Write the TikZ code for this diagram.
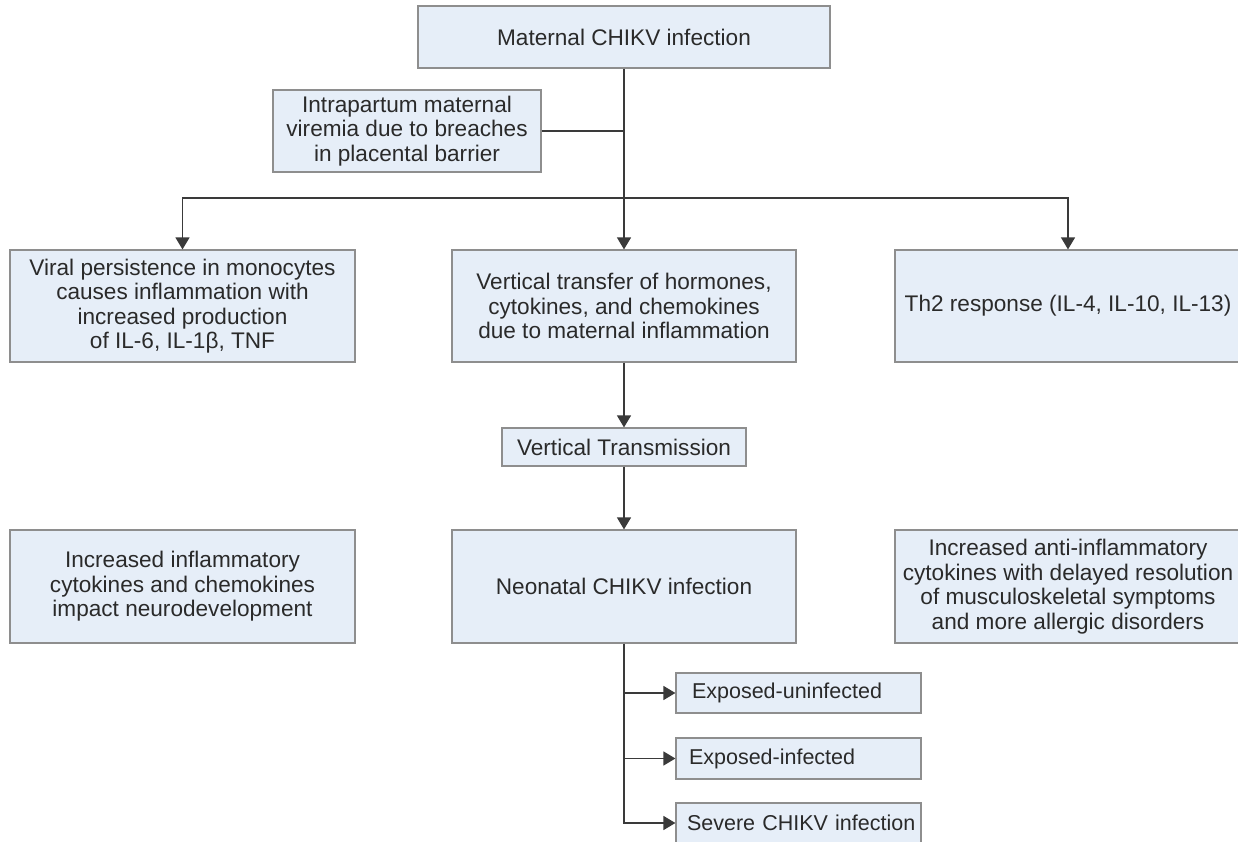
\documentclass[tikz,border=0pt]{standalone}
\usepackage{fontspec}
\setmainfont{Liberation Sans}
\usetikzlibrary{arrows.meta}
\definecolor{boxfill}{HTML}{E6EEF8}
\definecolor{boxline}{HTML}{8E8E8E}
\definecolor{conn}{HTML}{3A3A3A}
\definecolor{txt}{HTML}{2A2A2A}
\begin{document}
\begin{tikzpicture}[x=1pt,y=-1pt,
  box/.style={draw=boxline, line width=1.2pt, fill=boxfill, text=txt,
    inner sep=0pt, align=center, font=\fontsize{22.6}{24.5}\selectfont},
  sbox/.style={box, minimum width=245pt, align=left, text width=#1,
    font=\fontsize{21.5}{24}\selectfont},
  line/.style={draw=conn, line width=1.3pt},
  arr/.style={line, -{Triangle[length=12pt,width=14pt]}}]
\useasboundingbox (0,0) rectangle (1238,842);
\clip (0,0) rectangle (1238,842);
\fill[white] (0,0) rectangle (1238,842);
% nodes
\node[box, minimum width=412pt, minimum height=62pt] (top) at (624,37) {Maternal CHIKV infection};
\node[box, minimum width=268pt, minimum height=82pt] (intra) at (407,131) {Intrapartum maternal\\viremia due to breaches\\in placental barrier};
\node[box, minimum width=345pt, minimum height=112pt] (L2) at (182.5,306) {Viral persistence in monocytes\\causes inflammation with\\increased production\\of IL-6, IL-1β, TNF};
\node[box, minimum width=344pt, minimum height=112pt] (M2) at (624,306) {Vertical transfer of hormones,\\cytokines, and chemokines\\due to maternal inflammation};
\node[box, minimum width=346pt, minimum height=112pt] (R2) at (1068,306) {Th2 response (IL-4, IL-10, IL-13)};
\node[box, minimum width=244pt, minimum height=38pt] (VT) at (624,447) {Vertical Transmission};
\node[box, minimum width=345pt, minimum height=113pt] (L3) at (182.5,586.5) {Increased inflammatory\\cytokines and chemokines\\impact neurodevelopment};
\node[box, minimum width=344pt, minimum height=113pt] (M3) at (624,586.5) {Neonatal CHIKV infection};
\node[box, minimum width=346pt, minimum height=113pt] (R3) at (1068,586.5) {Increased anti-inflammatory\\cytokines with delayed resolution\\of musculoskeletal symptoms\\and more allergic disorders};
\node[sbox=213pt, minimum height=40pt] (S1) at (798.5,693) {\mbox{Exposed-uninfected}};
\node[sbox=219pt, minimum height=41pt] (S2) at (798.5,758.5) {\mbox{Exposed-infected}};
\node[sbox=223pt, minimum height=40pt] (S3) at (798.5,823) {\mbox{Severe CHIKV infection}};
% connectors
\coordinate (br) at (624,198);
\draw[line] (intra.east) -- (intra.east -| top.south);
\draw[arr] (top.south) -- (M2.north);
\draw[arr] (br) -| (L2.north);
\draw[arr] (br) -| (R2.north);
\draw[arr] (M2.south) -- (VT.north);
\draw[arr] (VT.south) -- (M3.north);
\draw[arr] (M3.south) |- (S3.west);
\draw[arr] (S1.west -| M3.south) -- (S1.west);
\draw[arr] (S2.west -| M3.south) -- (S2.west);
\end{tikzpicture}
\end{document}
